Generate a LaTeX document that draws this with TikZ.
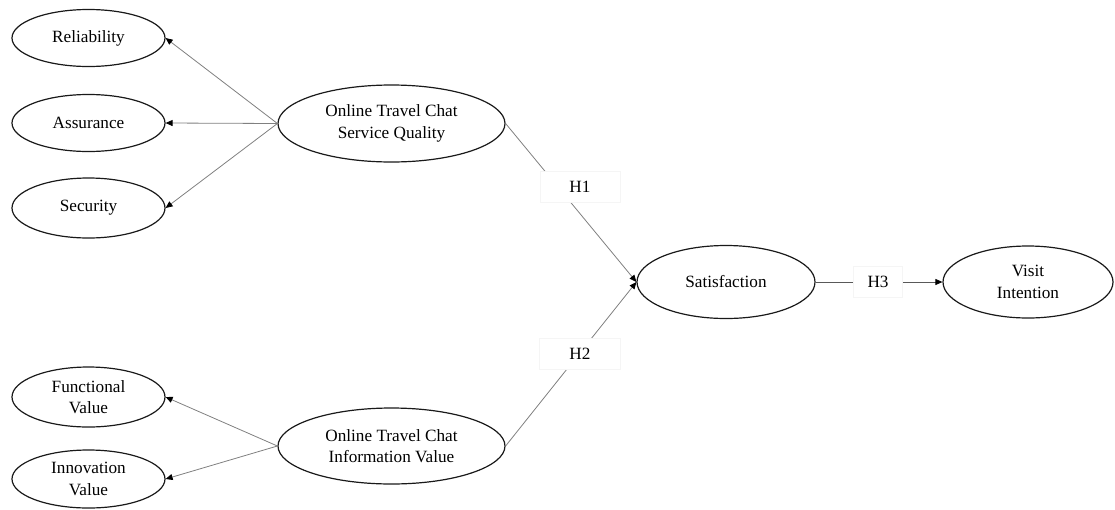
\documentclass[tikz,border=0pt]{standalone}
\usepackage{fontspec}
\setmainfont{Liberation Serif}
\usetikzlibrary{arrows.meta, shapes.geometric, positioning}

\tikzset{
  construct/.style={ellipse, draw=black!90, line width=1.2pt, inner sep=0pt,
    align=center, font=\fontsize{17.2}{21.5}\selectfont},
  link/.style={draw=black!50, line width=0.8pt,
    -{Triangle[length=7pt,width=6pt,color=black]}},
  hyp/.style={fill=white, draw=black!4, line width=0.6pt, inner sep=0pt,
    minimum height=31pt, font=\fontsize{17.2}{21.5}\selectfont}
}

\begin{document}
\begin{tikzpicture}[x=1pt, y=-1pt]
  \useasboundingbox (0,0) rectangle (1115,509);

  % first order constructs
  \node[construct, minimum width=153pt, minimum height=57pt] (Reliability) at (88.5,38) {Reliability};
  \node[construct, minimum width=153pt, minimum height=57pt] (Assurance) at (88.5,123) {Assurance};
  \node[construct, minimum width=153pt, minimum height=60pt] (Security) at (88.5,208) {Security};
  \node[construct, minimum width=153pt, minimum height=60pt] (Functional) at (88.5,397) {Functional\\Value};
  \node[construct, minimum width=153pt, minimum height=58pt] (Innovation) at (88.5,479) {Innovation\\Value};

  % second order constructs
  \node[construct, minimum width=227pt, minimum height=77pt] (ServiceQuality) at (391.5,123.5) {Online Travel Chat\\Service Quality};
  \node[construct, minimum width=227pt, minimum height=76pt] (InfoValue) at (391.5,446) {Online Travel Chat\\Information Value};

  % outcomes
  \node[construct, minimum width=178pt, minimum height=73pt] (Satisfaction) at (726,282) {Satisfaction};
  \node[construct, minimum width=170pt, minimum height=72pt] (VisitIntention) at (1028,282) {Visit\\Intention};

  \draw[link] (ServiceQuality.west) -- (Reliability.east);
  \draw[link] (ServiceQuality.west) -- (Assurance.east);
  \draw[link] (ServiceQuality.west) -- (Security.east);
  \draw[link] (InfoValue.west) -- (Functional.east);
  \draw[link] (InfoValue.west) -- (Innovation.east);

  \draw[link] (ServiceQuality.east) -- (Satisfaction.west);
  \draw[link] (InfoValue.east) -- (Satisfaction.west);
  \draw[link, draw=black!65] (Satisfaction.east) -- (VisitIntention.west);

  % hypothesis labels
  \node[hyp, minimum width=80pt] (H1) at (580,187) {H1};
  \node[hyp, minimum width=81pt] (H2) at (580,354) {H2};
  \node[hyp, minimum width=49pt] (H3) at (878,282) {H3};
\end{tikzpicture}
\end{document}
